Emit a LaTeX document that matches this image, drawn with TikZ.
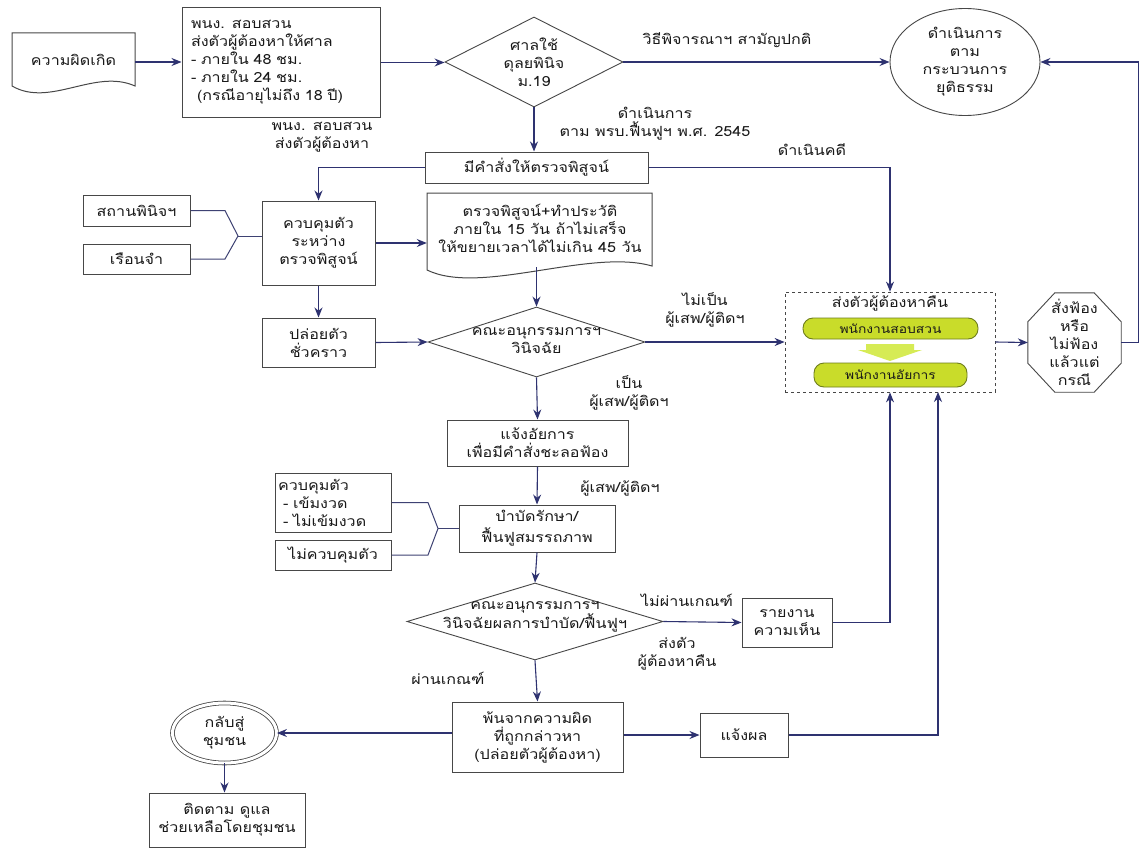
\documentclass[tikz,border=0pt]{standalone}
\usepackage{fontspec}
\newfontfamily\thaifont[Script=Thai,FakeStretch=1.15]{Loma}
\usetikzlibrary{arrows.meta,shapes.geometric,calc}
\definecolor{navy}{HTML}{2E3270}
\definecolor{boxline}{HTML}{474747}
\definecolor{pillfill}{HTML}{C9DC2A}
\definecolor{pilledge}{HTML}{6E7D1C}
\definecolor{limearrow}{HTML}{D6EB55}
\begin{document}
\begin{tikzpicture}[x=1pt,y=-1pt,
  txt/.style={font=\thaifont\fontsize{14}{18}\selectfont, text=black!90, align=center, inner sep=0pt},
  bx/.style={txt, draw=boxline, line width=1pt, rectangle},
  dia/.style={draw=boxline, line width=0.9pt, diamond, aspect=2, inner sep=0pt},
  plain/.style={txt},
  arr/.style={draw=navy, line width=1.1pt, -{Stealth[length=10pt,width=8pt]}},
  brk/.style={draw=navy!80!gray, line width=1pt},
  pillbox/.style={txt, font=\thaifont\fontsize{12}{14}\selectfont, draw=pilledge, fill=pillfill, line width=0.9pt, rounded corners=10pt, minimum height=#1},
]
\useasboundingbox (0,0) rectangle (1143,851);
\fill[white] (0,0) rectangle (1143,851);

% --- document shape: offence
\node[plain, minimum width=123pt, minimum height=58pt] (d1) at (73.5,62) {};
\draw[boxline, line width=1pt] (12,33) -- (135,33) -- (135,86) .. controls (95,68) and (50,108) .. (12,86) -- cycle;
\node[plain] (d1t) at (73.5,60) {ความผิดเกิด};

% --- investigator box
\node[bx, minimum width=198pt, minimum height=109pt, text width=180pt, align=left] (b2) at (281,62.5)
  {พนง. สอบสวน\\ส่งตัวผู้ต้องหาให้ศาล\\- ภายใน 48 ชม.\\- ภายใน 24 ชม.\\\hspace*{6pt}(กรณีอายุไม่ถึง 18 ปี)};

\node[dia, minimum width=178pt, minimum height=90pt] (dm1) at (534,62) {};
\node[plain] (dm1t) at (534,62) {ศาลใช้\\ดุลยพินิจ\\ม.19};
\node[draw=boxline, line width=0.9pt, ellipse, minimum width=150pt, minimum height=107pt, inner sep=0pt] (el) at (965,62) {};
\node[plain] (elt) at (965,62) {ดำเนินการ\\ตาม\\กระบวนการ\\ยุติธรรม};

\node[plain] (l1) at (727,40) {วิธีพิจารณาฯ สามัญปกติ};
\node[plain] (l2) at (655,124) {ดำเนินการ\\ตาม พรบ.ฟื้นฟูฯ พ.ศ. 2545};
\node[plain] (l3) at (812,150) {ดำเนินคดี};
\node[plain] (l4) at (322,137) {พนง. สอบสวน\\ส่งตัวผู้ต้องหา};

\node[bx, minimum width=223pt, minimum height=31pt] (mk1) at (536.5,167.5) {มีคำสั่งให้ตรวจพิสูจน์};

% --- document shape: examination
\node[plain, minimum width=225pt, minimum height=78pt] (d2) at (539.5,232) {};
\draw[boxline, line width=1pt] (427,193) -- (652,193) -- (652,266) .. controls (590,248) and (480,296) .. (427,270) -- cycle;
\node[plain] (d2t) at (540,228) {ตรวจพิสูจน์+ทำประวัติ\\ภายใน 15 วัน ถ้าไม่เสร็จ\\ให้ขยายเวลาได้ไม่เกิน 45 วัน};

\node[bx, minimum width=107pt, minimum height=31pt] (sp) at (136.5,210.5) {สถานพินิจฯ};
\node[bx, minimum width=107pt, minimum height=30pt] (rj) at (136.5,259) {เรือนจำ};
\node[bx, minimum width=113pt, minimum height=84pt] (kk) at (318.5,243) {ควบคุมตัว\\ระหว่าง\\ตรวจพิสูจน์};
\node[bx, minimum width=113pt, minimum height=49pt] (pl) at (318.5,342.5) {ปล่อยตัว\\ชั่วคราว};
\coordinate (bp1) at (238,236);
\draw[brk] (sp.east) -- (225,210.5) -- (bp1) -- (225,259) -- (rj.east);
\draw[brk] (bp1) -- (bp1 -| kk.west);

\node[dia, minimum width=217pt, minimum height=70pt] (dm2) at (536.5,342) {};
\node[plain] (dm2t) at (536.5,341) {คณะอนุกรรมการฯ\\วินิจฉัย};
\node[plain] (l5) at (705,310) {ไม่เป็น\\ผู้เสพ/ผู้ติดฯ};
\node[plain] (l6) at (629,393) {เป็น\\ผู้เสพ/ผู้ติดฯ};

% --- return box
\node[draw=boxline, dashed, line width=0.8pt, minimum width=210pt, minimum height=100pt, inner sep=0pt] (ds) at (890,342) {};
\node[plain] (dst) at (890,303) {ส่งตัวผู้ต้องหาคืน};
\node[pillbox=21pt, minimum width=175pt] (p1) at (890.5,328.5) {พนักงานสอบสวน};
\node[pillbox=24pt, minimum width=153pt] (p2) at (890.5,375) {พนักงานอัยการ};
\fill[limearrow] (866,344) -- (914,344) -- (914,350) -- (922,350) -- (890,361) -- (858,350) -- (866,350) -- cycle;

% --- octagon
\node[plain, minimum width=93pt, minimum height=99pt] (oc) at (1074.5,342.5) {สั่งฟ้อง\\หรือ\\ไม่ฟ้อง\\แล้วแต่\\กรณี};
\draw[boxline, line width=0.9pt]
  ($(oc.north west)+(27,0)$) -- ($(oc.north east)+(-27,0)$) -- ($(oc.north east)+(0,29)$) --
  ($(oc.south east)+(0,-29)$) -- ($(oc.south east)+(-27,0)$) -- ($(oc.south west)+(27,0)$) --
  ($(oc.south west)+(0,-29)$) -- ($(oc.north west)+(0,29)$) -- cycle;

\node[bx, minimum width=181pt, minimum height=46pt] (ja) at (537.5,443) {แจ้งอัยการ\\เพื่อมีคำสั่งชะลอฟ้อง};
\node[plain] (l7) at (620,488) {ผู้เสพ/ผู้ติดฯ};
\node[bx, minimum width=156pt, minimum height=47pt] (bb) at (537,528.5) {บำบัดรักษา/\\[3pt]ฟื้นฟูสมรรถภาพ};

\node[bx, minimum width=116pt, minimum height=59pt, text width=110pt, align=left] (kt) at (333,502.5)
  {ควบคุมตัว\\\hspace*{5pt}- เข้มงวด\\\hspace*{5pt}- ไม่เข้มงวด};
\node[bx, minimum width=116pt, minimum height=30pt] (mkt) at (333,555) {ไม่ควบคุมตัว};
\coordinate (bp2) at (438,528.5);
\draw[brk] (kt.east) -- (428,502.5) -- (bp2) -- (428,555) -- (mkt.east);
\draw[brk] (bp2) -- (bb.west);

\node[dia, minimum width=256pt, minimum height=77pt] (dm3) at (535,621.5) {};
\node[plain] (dm3t) at (535,617) {คณะอนุกรรมการฯ\\วินิจฉัยผลการบำบัด/ฟื้นฟูฯ};
\node[plain] (l8) at (687,600) {ไม่ผ่านเกณฑ์};
\node[plain] (l9) at (677,654) {ส่งตัว\\ผู้ต้องหาคืน};
\node[plain] (l10) at (448,678) {ผ่านเกณฑ์};
\node[bx, minimum width=90pt, minimum height=49pt] (rg) at (787,622.5) {รายงาน\\ความเห็น};

\node[bx, minimum width=171pt, minimum height=70pt] (pj) at (537.5,737) {พ้นจากความผิด\\ที่ถูกกล่าวหา\\(ปล่อยตัวผู้ต้องหา)};
\node[bx, minimum width=88pt, minimum height=44pt] (jp) at (744,735) {แจ้งผล};
\node[ellipse, draw=boxline, line width=0.8pt, double=white, double distance=3pt, minimum width=104pt, minimum height=60pt, inner sep=0pt] (ch) at (224.5,733) {};
\node[plain] (cht) at (224.5,733) {กลับสู่\\ชุมชน};
\node[bx, minimum width=156pt, minimum height=54pt] (tt) at (227,820) {ติดตาม ดูแล\\ช่วยเหลือโดยชุมชน};
\coordinate (ds2) at (938,392);

% --- connectors
\draw[arr] (d1.east) -- (d1.east -| b2.west);
\draw[arr] (b2.east) -- (b2.east -| dm1.west);
\draw[arr] (dm1.east) -- (el.west);
\draw[arr] (dm1.south) -- (dm1.south |- mk1.north);
\draw[arr] (mk1.west) -| (kk.north);
\draw[arr] (mk1.east) -| (ds.north);
\draw[arr] (kk.east) -- (kk.east -| d2.west);
\draw[arr] (kk.south) -- (pl.north);
\draw[arr] (pl.east) -- (dm2.west);
\draw[arr] ($(d2.south -| dm2.north)+(0,-4)$) -- (dm2.north);
\draw[arr] (dm2.east) -- (ds.west);
\draw[arr] (ds.east) -- (oc.west);
\draw[arr] (oc.east) -- ++(17,0) |- (el.east);
\draw[arr] (dm2.south) -- (ja.north);
\draw[arr] (ja.south) -- (bb.north);
\draw[arr] (bb.south) -- (dm3.north);
\draw[arr] (dm3.east) -- (rg.west);
\draw[arr] (rg.east) -| (ds.south);
\draw[arr] (dm3.south) -- (pj.north);
\draw[arr] (pj.west |- ch.east) -- (ch.east);
\draw[arr] (pj.east |- jp.west) -- (jp.west);
\draw[arr] (jp.east) -| (ds2);
\draw[arr] (ch.south) -- (ch.south |- tt.north);
\end{tikzpicture}
\end{document}
